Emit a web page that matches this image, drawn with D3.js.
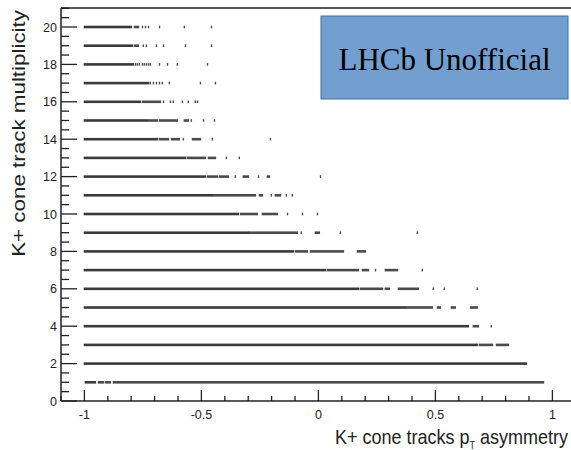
<!DOCTYPE html>
<html>
<head>
<meta charset="utf-8">
<script src="https://cdn.jsdelivr.net/npm/d3@7"></script>
<style>
  body { margin: 0; background: #fff; }
  svg { display: block; }
</style>
</head>
<body>
<svg id="svg" width="571" height="450"></svg>
<script>
// multiplicity rows
const multiplicity = [1, 2, 3, 4, 5, 6, 7, 8, 9, 10, 11, 12, 13, 14, 15, 16, 17, 18, 19, 20];

// per row: filled runs of points [from, to]; a lone point has from == to
const runs = [
  [[-0.996, -0.953], [-0.940, -0.919], [-0.910, -0.889], [-0.876, 0.962]],
  [[-1, 0.889]],
  [[-1, 0.679], [0.688, 0.744], [0.761, 0.812]],
  [[-1, 0.641], [0.662, 0.684], [0.739, 0.739]],
  [[-1, 0.372], [0.376, 0.487], [0.509, 0.521], [0.568, 0.585], [0.650, 0.679]],
  [[-1, 0.171], [0.179, 0.274], [0.286, 0.303], [0.342, 0.427], [0.491, 0.491], [0.538, 0.538], [0.679, 0.679]],
  [[-1, 0.030], [0.038, 0.171], [0.188, 0.214], [0.244, 0.244], [0.286, 0.338], [0.444, 0.444]],
  [[-1, -0.107], [-0.098, -0.047], [-0.034, 0.107], [0.167, 0.201]],
  [[-1, -0.299], [-0.295, -0.197], [-0.192, -0.090], [-0.073, -0.073], [-0.013, 0.004], [0.094, 0.094], [0.423, 0.423]],
  [[-1, -0.342], [-0.333, -0.261], [-0.239, -0.175], [-0.132, -0.132], [-0.068, -0.068], [-0.004, -0.004]],
  [[-1, -0.453], [-0.449, -0.269], [-0.252, -0.239], [-0.201, -0.201], [-0.184, -0.162], [-0.137, -0.137], [-0.111, -0.111]],
  [[-1, -0.483], [-0.474, -0.432], [-0.423, -0.385], [-0.355, -0.355], [-0.321, -0.299], [-0.256, -0.256], [-0.218, -0.209], [0.009, 0.009]],
  [[-1, -0.568], [-0.560, -0.483], [-0.470, -0.440], [-0.393, -0.393], [-0.338, -0.338]],
  [[-1, -0.688], [-0.679, -0.641], [-0.628, -0.594], [-0.577, -0.577], [-0.538, -0.504], [-0.453, -0.453], [-0.205, -0.205]],
  [[-1, -0.731], [-0.726, -0.688], [-0.679, -0.650], [-0.645, -0.603], [-0.573, -0.556], [-0.543, -0.543], [-0.491, -0.491], [-0.444, -0.444]],
  [[-1, -0.761], [-0.752, -0.675], [-0.662, -0.662], [-0.632, -0.632], [-0.620, -0.620], [-0.581, -0.581], [-0.556, -0.556], [-0.526, -0.526], [-0.517, -0.517]],
  [[-1, -0.726], [-0.718, -0.718], [-0.705, -0.705], [-0.692, -0.692], [-0.679, -0.679], [-0.667, -0.667], [-0.637, -0.637], [-0.504, -0.504], [-0.440, -0.440]],
  [[-1, -0.791], [-0.782, -0.782], [-0.774, -0.774], [-0.765, -0.765], [-0.752, -0.752], [-0.744, -0.744], [-0.735, -0.735], [-0.726, -0.726], [-0.718, -0.718], [-0.679, -0.679], [-0.645, -0.645], [-0.603, -0.603], [-0.474, -0.474]],
  [[-1, -0.795], [-0.786, -0.769], [-0.748, -0.748], [-0.735, -0.735], [-0.692, -0.692], [-0.662, -0.662], [-0.568, -0.568], [-0.457, -0.457]],
  [[-1, -0.799], [-0.786, -0.769], [-0.752, -0.752], [-0.739, -0.739], [-0.726, -0.726], [-0.679, -0.679], [-0.573, -0.573], [-0.457, -0.457]]
];

const xTickLabels = [-1, -0.5, 0, 0.5, 1];
const yTickLabels = [0, 2, 4, 6, 8, 10, 12, 14, 16, 18, 20];

const xTitle = "K+ cone tracks p";
const xTitleSub = "T";
const xTitleRest = " asymmetry";
const yTitle = "K+ cone track multiplicity";
const stamp = "LHCb Unofficial";

const svg = d3.select("#svg");
const padLeft = 61, padBottom = 401, padTop = 8;

const x = d3.scaleLinear().domain([-1.1, 1.1]).range([padLeft, padLeft + 2.2 * 234]);
const y = d3.scaleLinear().domain([0, 21]).range([padBottom, padBottom - 21 * 18.7]);

// rows of points
const rowG = svg.append("g");
multiplicity.forEach((m, i) => {
    rowG.selectAll(null)
        .data(runs[i])
        .enter()
        .append("rect")
        .attr("x", d => x(d[0]) - 0.7)
        .attr("y", y(m) - 1.3)
        .attr("width", d => Math.max(1.4, x(d[1]) - x(d[0]) + 1.4))
        .attr("height", 2.6)
        .attr("fill", (d, j) => j === 0 ? "#3a3a3a" : "#4a4a4a");
});

// frame lines
svg.append("line").attr("x1", padLeft).attr("x2", 571).attr("y1", padTop).attr("y2", padTop)
    .attr("stroke", "#555").attr("stroke-width", 2);
svg.append("line").attr("x1", padLeft).attr("x2", padLeft).attr("y1", padTop).attr("y2", padBottom)
    .attr("stroke", "#222").attr("stroke-width", 1.5);
svg.append("line").attr("x1", padLeft).attr("x2", 571).attr("y1", padBottom).attr("y2", padBottom)
    .attr("stroke", "#222").attr("stroke-width", 1.5);

// y ticks (inward, ROOT style)
const yMinor = d3.range(0, 21.01, 0.5);
svg.append("g").selectAll("line")
    .data(yMinor)
    .enter()
    .append("line")
    .attr("x1", padLeft)
    .attr("x2", d => padLeft + (d % 2 === 0 ? 16 : 8))
    .attr("y1", d => y(d))
    .attr("y2", d => y(d))
    .attr("stroke", "#222")
    .attr("stroke-width", 1.3);
svg.append("g").selectAll("text")
    .data(yTickLabels)
    .enter()
    .append("text")
    .attr("x", 57)
    .attr("y", d => y(d) + 4.5)
    .attr("text-anchor", "end")
    .attr("font-family", "Liberation Sans, Arial, sans-serif")
    .attr("font-size", 12.5)
    .attr("fill", "#222")
    .text(d => d);

// x ticks
const xMinor = d3.range(-11, 11).map(k => k / 10);
svg.append("g").selectAll("line")
    .data(xMinor)
    .enter()
    .append("line")
    .attr("x1", d => x(d))
    .attr("x2", d => x(d))
    .attr("y1", padBottom)
    .attr("y2", d => padBottom - (Math.round(d * 10) % 5 === 0 ? 11 : 5))
    .attr("stroke", "#222")
    .attr("stroke-width", 1.3);
svg.append("g").selectAll("text")
    .data(xTickLabels)
    .enter()
    .append("text")
    .attr("x", d => x(d))
    .attr("y", 419)
    .attr("text-anchor", "middle")
    .attr("font-family", "Liberation Sans, Arial, sans-serif")
    .attr("font-size", 12.5)
    .attr("fill", "#222")
    .text(d => d);

// axis titles (the source picture is stretched vertically)
const xt = svg.append("text")
    .attr("transform", "translate(568,444) scale(0.9,1)")
    .attr("text-anchor", "end")
    .attr("font-family", "Liberation Sans, Arial, sans-serif")
    .attr("font-size", 20)
    .attr("fill", "#222");
xt.append("tspan").text(xTitle);
xt.append("tspan").attr("font-size", 10).attr("dy", 5).text(xTitleSub);
xt.append("tspan").attr("dy", -5).text(xTitleRest);

svg.append("text")
    .attr("transform", "translate(25,10) rotate(-90) scale(1.28,1)")
    .attr("text-anchor", "end")
    .attr("font-family", "Liberation Sans, Arial, sans-serif")
    .attr("font-size", 17.5)
    .attr("fill", "#222")
    .text(yTitle);

// stamp box
svg.append("rect")
    .attr("x", 321).attr("y", 16)
    .attr("width", 247).attr("height", 83)
    .attr("fill", "#729fcf")
    .attr("stroke", "#3f6fa8")
    .attr("stroke-width", 1);
svg.append("text")
    .attr("x", 444.5).attr("y", 70)
    .attr("text-anchor", "middle")
    .attr("font-family", "Liberation Serif, Times New Roman, serif")
    .attr("font-size", 31)
    .attr("fill", "#000")
    .text(stamp);
</script>
</body>
</html>
